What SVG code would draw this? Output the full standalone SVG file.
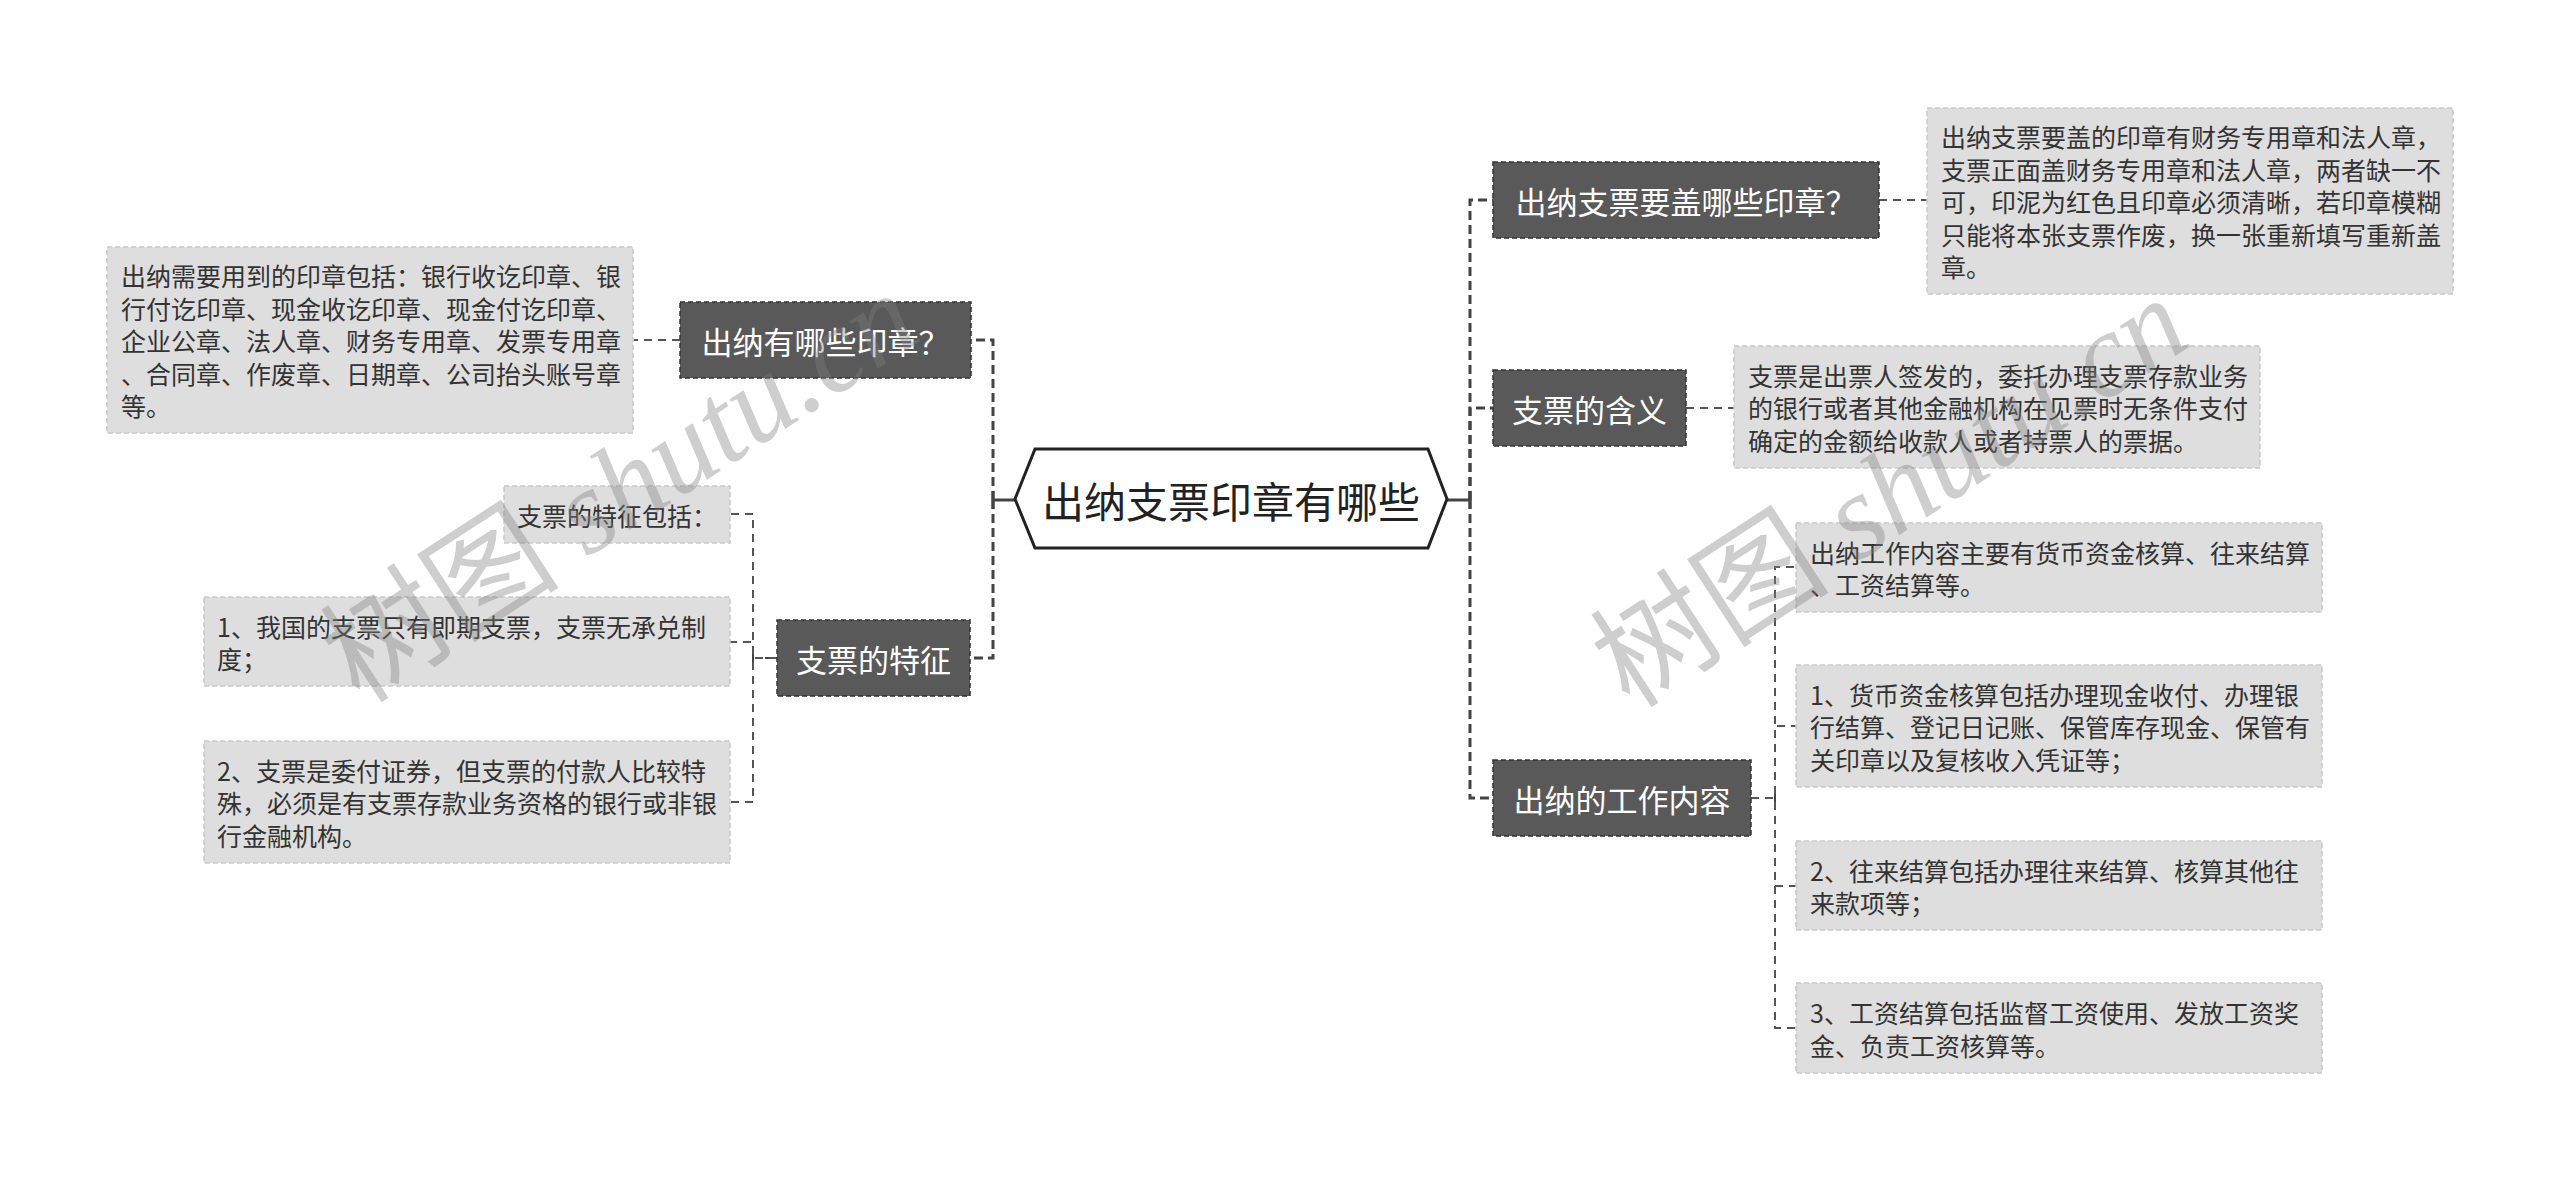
<svg xmlns="http://www.w3.org/2000/svg" width="2560" height="1181" viewBox="0 0 2560 1181">
<style>
.bg{fill:#ffffff}
.dark rect{fill:#595959;stroke:#333333;stroke-width:1.5;stroke-dasharray:5 3}
.dark text{fill:#ffffff;font-family:"Noto Sans CJK SC","Noto Sans",sans-serif;font-size:31px;text-anchor:middle;dominant-baseline:central}
.box rect{fill:#dedede;stroke:#c9c9c9;stroke-width:1.5;stroke-dasharray:5 3}
.box text{fill:#333333;font-family:"Noto Sans CJK SC","Noto Sans",sans-serif;font-size:25px;dominant-baseline:central}
.main{fill:none;stroke:#444444;stroke-width:3;stroke-dasharray:9 5}
.sub{fill:none;stroke:#555555;stroke-width:2;stroke-dasharray:8 6}
.solid{fill:none;stroke:#444444;stroke-width:3}
.wm{fill:#808080;opacity:0.38;font-size:120px}
</style>
<rect class="bg" x="0" y="0" width="2560" height="1181"/>

<g id="connectors">
  <!-- root to right branches -->
  <path class="solid" d="M1447,500 H1470 M1470,491 V509"/>
  <path class="main" d="M1470,500 V200 H1493"/>
  <path class="main" d="M1470,500 V408 H1493"/>
  <path class="main" d="M1470,500 V798 H1493"/>
  <!-- root to left branches -->
  <path class="solid" d="M1015,500 H993 M993,491 V509"/>
  <path class="main" d="M993,500 V340 H971"/>
  <path class="main" d="M993,500 V658 H970"/>
  <!-- leaf connectors -->
  <path class="sub" d="M680,340 H634"/>
  <path class="sub" d="M1879,200 H1927"/>
  <path class="sub" d="M1686,408 H1734"/>
  <!-- 支票的特征 children -->
  <path class="solid" style="stroke-width:2" d="M777,658 H765 M753,650 V666"/>
  <path class="sub" d="M777,658 H753 V514 H730"/>
  <path class="sub" d="M777,658 H753 V642 H730"/>
  <path class="sub" d="M777,658 H753 V802 H730"/>
  <!-- 出纳的工作内容 children -->
  <path class="solid" style="stroke-width:2" d="M1775,790 V806"/>
  <path class="sub" d="M1751,798 H1775 V567 H1796"/>
  <path class="sub" d="M1751,798 H1775 V726 H1796"/>
  <path class="sub" d="M1751,798 H1775 V886 H1796"/>
  <path class="sub" d="M1751,798 H1775 V1028 H1796"/>
</g>

<g id="root">
  <polygon points="1015,499 1035,449 1428,449 1447,499 1428,548 1035,548" fill="#ffffff" stroke="#222222" stroke-width="3"/>
  <text x="1231" y="499" font-family="Noto Sans CJK SC, Noto Sans, sans-serif" font-size="42" fill="#222222" text-anchor="middle" dominant-baseline="central">出纳支票印章有哪些</text>
</g>

<g id="node-chuna-yinzhang" class="dark">
  <rect x="680" y="302" width="291" height="76"/>
  <text x="825.5" y="340">出纳有哪些印章？</text>
</g>
<g id="node-chuna-yinzhang-detail" class="box">
  <rect x="107" y="247" width="526" height="186"/>
  <text x="121" y="275">出纳需要用到的印章包括：银行收讫印章、银</text>
  <text x="121" y="307.5">行付讫印章、现金收讫印章、现金付讫印章、</text>
  <text x="121" y="340">企业公章、法人章、财务专用章、发票专用章</text>
  <text x="121" y="372.5">、合同章、作废章、日期章、公司抬头账号章</text>
  <text x="121" y="405">等。</text>
</g>

<g id="node-tezheng" class="dark">
  <rect x="777" y="620" width="193" height="76"/>
  <text x="873.5" y="658">支票的特征</text>
</g>
<g id="node-tezheng-0" class="box">
  <rect x="504" y="486" width="226" height="57"/>
  <text x="517" y="514.5">支票的特征包括：</text>
</g>
<g id="node-tezheng-1" class="box">
  <rect x="204" y="597" width="526" height="89"/>
  <text x="217" y="625.5">1、我国的支票只有即期支票，支票无承兑制</text>
  <text x="217" y="658">度；</text>
</g>
<g id="node-tezheng-2" class="box">
  <rect x="204" y="741" width="526" height="122"/>
  <text x="217" y="769.5">2、支票是委付证券，但支票的付款人比较特</text>
  <text x="217" y="802">殊，必须是有支票存款业务资格的银行或非银</text>
  <text x="217" y="834.5">行金融机构。</text>
</g>

<g id="node-gaizhang" class="dark">
  <rect x="1493" y="162" width="386" height="76"/>
  <text x="1686" y="200">出纳支票要盖哪些印章？</text>
</g>
<g id="node-gaizhang-detail" class="box">
  <rect x="1927" y="108" width="526" height="186"/>
  <text x="1941" y="136">出纳支票要盖的印章有财务专用章和法人章，</text>
  <text x="1941" y="168.5">支票正面盖财务专用章和法人章，两者缺一不</text>
  <text x="1941" y="201">可，印泥为红色且印章必须清晰，若印章模糊</text>
  <text x="1941" y="233.5">只能将本张支票作废，换一张重新填写重新盖</text>
  <text x="1941" y="266">章。</text>
</g>

<g id="node-hanyi" class="dark">
  <rect x="1493" y="370" width="193" height="76"/>
  <text x="1589.5" y="408">支票的含义</text>
</g>
<g id="node-hanyi-detail" class="box">
  <rect x="1734" y="346" width="526" height="122"/>
  <text x="1748" y="374.5">支票是出票人签发的，委托办理支票存款业务</text>
  <text x="1748" y="407">的银行或者其他金融机构在见票时无条件支付</text>
  <text x="1748" y="439.5">确定的金额给收款人或者持票人的票据。</text>
</g>

<g id="node-gongzuo" class="dark">
  <rect x="1493" y="760" width="258" height="76"/>
  <text x="1622" y="798">出纳的工作内容</text>
</g>
<g id="node-gongzuo-0" class="box">
  <rect x="1796" y="523" width="526" height="89"/>
  <text x="1810" y="551.5">出纳工作内容主要有货币资金核算、往来结算</text>
  <text x="1810" y="584">、工资结算等。</text>
</g>
<g id="node-gongzuo-1" class="box">
  <rect x="1796" y="665" width="526" height="122"/>
  <text x="1810" y="693.5">1、货币资金核算包括办理现金收付、办理银</text>
  <text x="1810" y="726">行结算、登记日记账、保管库存现金、保管有</text>
  <text x="1810" y="758.5">关印章以及复核收入凭证等；</text>
</g>
<g id="node-gongzuo-2" class="box">
  <rect x="1796" y="841" width="526" height="89"/>
  <text x="1810" y="869.5">2、往来结算包括办理往来结算、核算其他往</text>
  <text x="1810" y="902">来款项等；</text>
</g>
<g id="node-gongzuo-3" class="box">
  <rect x="1796" y="983" width="526" height="90"/>
  <text x="1810" y="1012">3、工资结算包括监督工资使用、发放工资奖</text>
  <text x="1810" y="1044.5">金、负责工资核算等。</text>
</g>

<g id="watermarks">
  <text class="wm" transform="translate(360,705) rotate(-33)"><tspan font-family="Noto Sans CJK SC, sans-serif">树图</tspan><tspan font-family="Liberation Serif, serif" font-style="italic"> shutu.cn</tspan></text>
  <text class="wm" transform="translate(1630,710) rotate(-33)"><tspan font-family="Noto Sans CJK SC, sans-serif">树图</tspan><tspan font-family="Liberation Serif, serif" font-style="italic"> shutu.cn</tspan></text>
</g>
</svg>
